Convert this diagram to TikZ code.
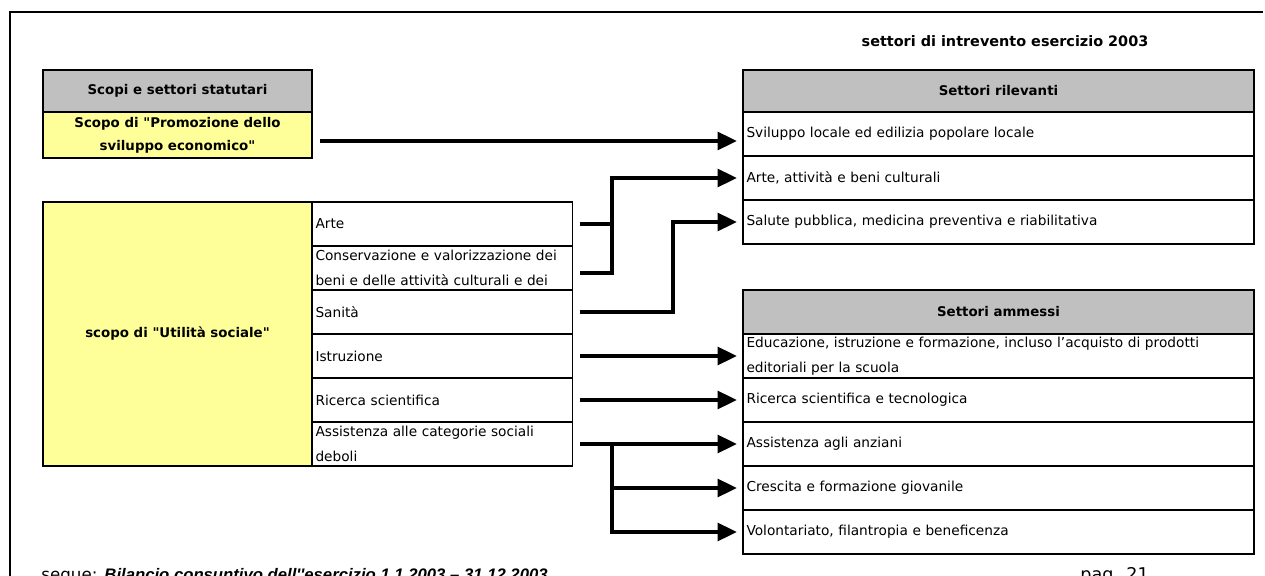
\documentclass[tikz,border=0pt]{standalone}
\usepackage{fontspec}
\setmainfont{DejaVu Sans}[Ligatures=TeXOff]
\newfontfamily\footfont{Liberation Sans}[Ligatures=TeXOff]
\usetikzlibrary{positioning,arrows.meta}

\definecolor{headgray}{HTML}{C0C0C0}
\definecolor{paleyellow}{HTML}{FFFF99}

\newcommand{\cellfont}{\fontsize{7.8}{14}\selectfont}
\newcommand{\headfont}{\fontsize{7.6}{13}\selectfont\bfseries}

\begin{document}
\begin{tikzpicture}[
  cell/.style={draw, line width=0.6pt, fill=white, anchor=north west, outer sep=0pt,
    minimum height=0.88cm, inner xsep=2pt, inner ysep=1.5pt, font=\cellfont},
  subcell/.style={cell, text width=5.06cm, align=left},
  rowcell/.style={cell, line width=1pt, text width=10.08cm, align=left},
  headcell/.style={cell, line width=1pt, fill=headgray, minimum width=#1,
    minimum height=0.84cm, align=center, font=\headfont},
  yellowcell/.style={cell, line width=1pt, fill=paleyellow, minimum width=5.38cm,
    align=center, font=\headfont},
  conn/.style={line width=2.2pt, shorten <=0.16cm},
  arr/.style={conn, -{Triangle[length=11pt,width=10pt]}, shorten >=0.12cm},
]
\useasboundingbox (0,0) rectangle (25.3,-11.52);

% page frame
\draw[line width=0.8pt] (0.2,-11.52) -- (0.2,-0.24) -- (25.26,-0.24);

\node[font=\fontsize{8.2}{13}\selectfont\bfseries] (title) at (20.1,-0.82) {settori di intrevento esercizio 2003};

% Scopi e settori statutari
\node[headcell=5.38cm] (scopi) at (0.86,-1.4) {Scopi e settori statutari};
\node[yellowcell, minimum height=0.92cm, below=0pt of scopi] (promo) {Scopo di "Promozione dello\\sviluppo economico"};

\node[yellowcell, minimum height=5.28cm] (utile) at (0.86,-4.04) {scopo di "Utilità sociale"};
\node[subcell] (arte) at (6.24,-4.04) {Arte};
\node[subcell, below=0pt of arte] (cons) {Conservazione e valorizzazione dei\\beni e delle attività culturali e dei};
\node[subcell, below=0pt of cons] (san) {Sanità};
\node[subcell, below=0pt of san] (istr) {Istruzione};
\node[subcell, below=0pt of istr] (ric) {Ricerca scientifica};
\node[subcell, below=0pt of ric] (ass) {Assistenza alle categorie sociali\\deboli};

% Settori rilevanti
\node[headcell=10.22cm] (rilev) at (14.86,-1.4) {Settori rilevanti};
\node[rowcell, below=0pt of rilev] (svil) {Sviluppo locale ed edilizia popolare locale};
\node[rowcell, below=0pt of svil] (arteR) {Arte, attività e beni culturali};
\node[rowcell, below=0pt of arteR] (salR) {Salute pubblica, medicina preventiva e riabilitativa};

% Settori ammessi
\node[headcell=10.22cm, minimum height=0.88cm] (ammes) at (14.86,-5.8) {Settori ammessi};
\node[rowcell, below=0pt of ammes] (educR) {Educazione, istruzione e formazione, incluso l’acquisto di prodotti\\editoriali per la scuola};
\node[rowcell, below=0pt of educR] (ricR) {Ricerca scientifica e tecnologica};
\node[rowcell, below=0pt of ricR] (assR) {Assistenza agli anziani};
\node[rowcell, below=0pt of assR] (croR) {Crescita e formazione giovanile};
\node[rowcell, below=0pt of croR] (volR) {Volontariato, filantropia e beneficenza};

% footer
\node[anchor=base west, inner sep=0pt] (segue) at (0.82,-11.6) {\fontsize{9.5}{11}\selectfont segue: {\footfont\bfseries\itshape Bilancio consuntivo dell''esercizio 1.1.2003 – 31.12.2003}};
\node[anchor=base west, inner sep=0pt] (pag) at (21.6,-11.6) {\fontsize{10}{12}\selectfont pag. 21};

% connectors
\draw[arr] ([yshift=-0.12cm]promo.east) -- ([yshift=-0.12cm]promo.east -| svil.west);

\coordinate (jArte) at ([xshift=0.8cm]arte.east);
\draw[conn] (arte.east) -- (jArte);
\draw[arr] ([yshift=-0.1cm]cons.east) -| (jArte |- arteR.west) -- (arteR.west);

\coordinate (jSan) at ([xshift=2.02cm]san.east);
\draw[arr] (san.east) -| (jSan |- salR.west) -- (salR.west);

\draw[arr] (istr.east) -- (istr.east -| educR.west);
\draw[arr] (ric.east) -- (ric.east -| ricR.west);

\coordinate (jAss) at ([xshift=0.8cm]ass.east);
\draw[arr] (ass.east) -- (ass.east -| assR.west);
\draw[arr, shorten <=0pt] (jAss) |- (croR.west);
\draw[arr, shorten <=0pt] (jAss) |- (volR.west);

\end{tikzpicture}
\end{document}
